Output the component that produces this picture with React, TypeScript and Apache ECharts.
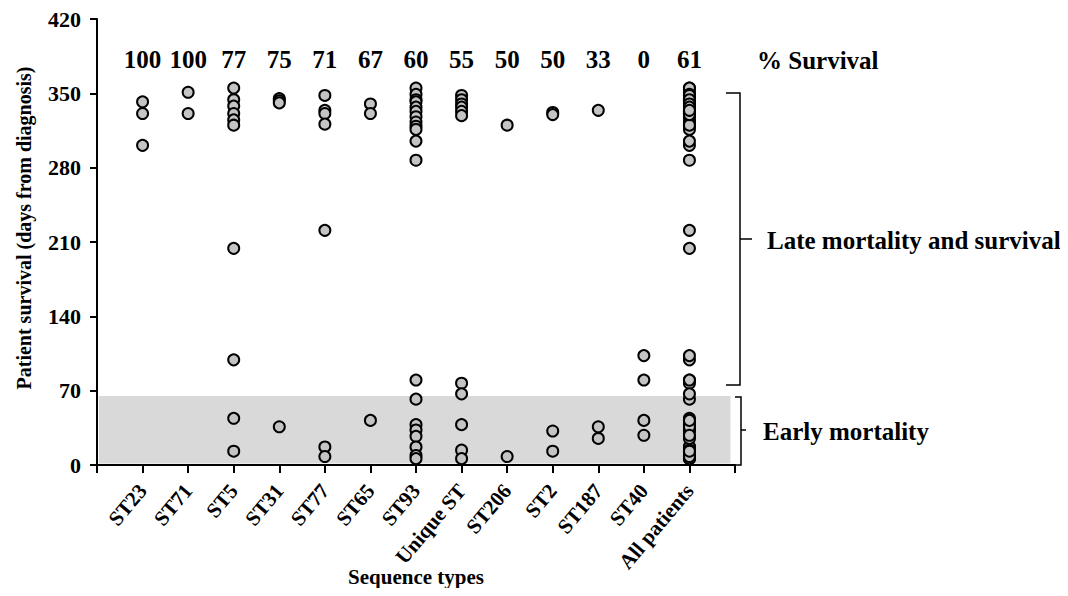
import React, { useEffect, useRef } from "react";
import * as echarts from "echarts";

const categories = ["ST23", "ST71", "ST5", "ST31", "ST77", "ST65", "ST93", "Unique ST", "ST206", "ST2", "ST187", "ST40", "All patients"];
const survivalPct = [100, 100, 77, 75, 71, 67, 60, 55, 50, 50, 33, 0, 61];

const st23 = [342, 331, 301];
const st71 = [351, 331];
const st5 = [355, 344, 338, 331, 325, 320, 204, 99, 44, 13];
const st31 = [345, 343, 341, 36];
const st77 = [348, 334, 331, 321, 221, 17, 8];
const st65 = [340, 331, 42];
const st93 = [355, 349, 344, 342, 337, 333, 328, 323, 319, 316, 305, 287, 80, 62, 38, 33, 27, 17, 9, 6];
const uniqueST = [348, 344, 340, 337, 333, 329, 77, 67, 38, 14, 6];
const st206 = [320, 8];
const st2 = [332, 330, 32, 13];
const st187 = [334, 36, 25];
const st40 = [103, 80, 42, 28];
const groups = [st23, st71, st5, st31, st77, st65, st93, uniqueST, st206, st2, st187, st40];
const allPatients = groups.flat();

const yTicks = [0, 70, 140, 210, 280, 350, 420];
const pctRowY = 382;
const earlyBand = [1.5, 65];

const FONT = "'Liberation Serif', 'Times New Roman', serif";

export default function App() {
  const ref = useRef<HTMLDivElement>(null);
  useEffect(() => {
    if (!ref.current) return;
    const chart = echarts.init(ref.current, null, { renderer: "svg" });
    const allGroups = [...groups, allPatients];
    const points: number[][] = [];
    allGroups.forEach((g, i) => g.forEach((v) => points.push([i + 1, v])));
    const pctData = survivalPct.map((p, i) => [i + 1, pctRowY, p]);

    chart.setOption({
      animation: false,
      backgroundColor: "#fff",
      textStyle: { fontFamily: FONT },
      grid: { left: 97, right: 333, top: 19, bottom: 131, containLabel: false, outerBoundsMode: "none" },
      xAxis: {
        type: "value",
        min: 0,
        max: 14,
        interval: 1,
        splitLine: { show: false },
        axisLine: { lineStyle: { color: "#000", width: 2 } },
        axisTick: { show: true, length: 8, lineStyle: { color: "#000", width: 2 } },
        axisLabel: {
          rotate: 50,
          margin: 22,
          color: "#000",
          fontFamily: FONT,
          fontWeight: "bold",
          fontSize: 21,
          showMinLabel: true,
          showMaxLabel: true,
          formatter: (v: number) => categories[v - 1] ?? "",
        },
        name: "Sequence types",
        nameLocation: "middle",
        nameGap: 101,
        nameMoveOverlap: false,
        nameTextStyle: { color: "#000", fontFamily: FONT, fontWeight: "bold", fontSize: 21 },
      },
      yAxis: {
        type: "value",
        min: 0,
        max: 420,
        interval: 70,
        splitLine: { show: false },
        axisLine: { show: true, lineStyle: { color: "#000", width: 2 } },
        axisTick: { show: true, length: 7, lineStyle: { color: "#000", width: 2 } },
        axisLabel: {
          color: "#000",
          fontFamily: FONT,
          fontWeight: "bold",
          fontSize: 22,
          margin: 16,
          formatter: (v: number) => (yTicks.includes(v) ? String(v) : ""),
        },
      },
      series: [
        {
          type: "scatter",
          data: points,
          symbol: "circle",
          symbolSize: 11,
          itemStyle: { color: "#c4c4c4", borderColor: "#000", borderWidth: 2, opacity: 1 },
          z: 3,
          markArea: {
            silent: true,
            itemStyle: { color: "#d9d9d9" },
            data: [[{ xAxis: 0.04, yAxis: earlyBand[0] }, { xAxis: 13.9, yAxis: earlyBand[1] }]],
          },
        },
        {
          type: "scatter",
          data: pctData,
          symbolSize: 0,
          itemStyle: { color: "#000", opacity: 1 },
          label: {
            show: true,
            position: "inside",
            color: "#000",
            textBorderWidth: 0,
            fontFamily: FONT,
            fontWeight: "bold",
            fontSize: 25,
            formatter: (p: any) => String(p.value[2]),
          },
          z: 4,
        },
      ],
      graphic: [
        {
          type: "text",
          x: 24,
          y: 228,
          rotation: Math.PI / 2,
          style: {
            text: "Patient survival (days from diagnosis)",
            fill: "#000",
            font: `bold 20px ${FONT}`,
            textAlign: "center",
            textVerticalAlign: "middle",
          },
        },
        {
          type: "text",
          x: 757,
          y: 60,
          style: { text: "% Survival", fill: "#000", font: `bold 25px ${FONT}`, textAlign: "left", textVerticalAlign: "middle" },
        },
        {
          type: "polyline",
          shape: { points: [[726, 93], [740, 93], [740, 239], [752, 239], [740, 239], [740, 385], [726, 385]] },
          style: { stroke: "#000", lineWidth: 1.5, fill: "none" },
        },
        {
          type: "polyline",
          shape: { points: [[735, 397], [741, 397], [741, 430], [746, 430], [741, 430], [741, 465], [735, 465]] },
          style: { stroke: "#000", lineWidth: 1.5, fill: "none" },
        },
        {
          type: "text",
          x: 767,
          y: 240,
          style: { text: "Late mortality and survival", fill: "#000", font: `bold 25px ${FONT}`, textAlign: "left", textVerticalAlign: "middle" },
        },
        {
          type: "text",
          x: 763,
          y: 431,
          style: { text: "Early mortality", fill: "#000", font: `bold 25px ${FONT}`, textAlign: "left", textVerticalAlign: "middle" },
        },
      ],
    });
    return () => chart.dispose();
  }, []);
  return <div ref={ref} style={{ width: 1068, height: 596, margin: -8 }} />;
}
